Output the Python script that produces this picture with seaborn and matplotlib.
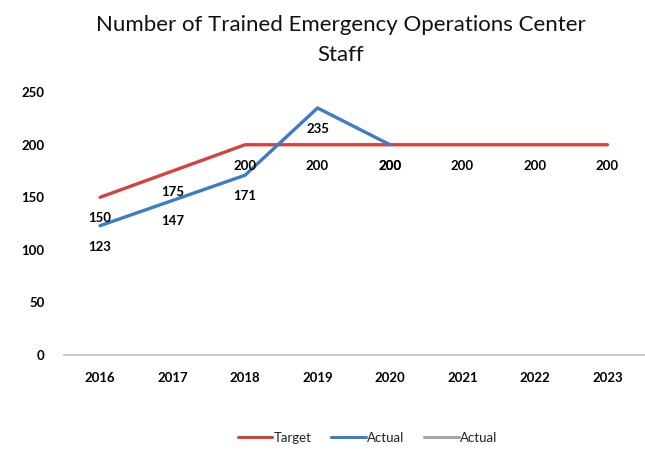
import matplotlib
matplotlib.use('Agg')
import numpy as np
import pandas as pd
import seaborn as sns
import matplotlib.pyplot as plt
from matplotlib.lines import Line2D

# chart data
years = ['2016', '2017', '2018', '2019', '2020', '2021', '2022', '2023']
target = [150, 175, 200, 200, 200, 200, 200, 200]
actual = [123, 147, 171, 235, 200, np.nan, np.nan, np.nan]

RED = '#D6423F'
BLUE = '#3C7DC4'
GRAY = '#A5A5A5'

df = pd.DataFrame({
    'Year': years * 2,
    'Value': target + actual,
    'Series': ['Target'] * len(years) + ['Actual'] * len(years),
})

sns.set_style('white')
plt.rcParams['font.family'] = ['Lato', 'DejaVu Sans']

fig = plt.figure(figsize=(6.45, 4.61), dpi=100)
ax = fig.add_axes([0.099, 0.23, 0.899, 0.57])

sns.lineplot(data=df, x='Year', y='Value', hue='Series',
             palette={'Target': RED, 'Actual': BLUE}, linewidth=2.4,
             sort=False, legend=False, ax=ax)

# data labels, sitting just under each point
for ser, vals in (('Target', target), ('Actual', actual)):
    for i, v in enumerate(vals):
        if np.isnan(v):
            continue
        ax.annotate(f'{int(v)}', (i, v), xytext=(0, -21),
                    textcoords='offset pixels', ha='center', va='center',
                    fontsize=9.5, fontweight='bold', color='black')

ax.set_xlim(-0.5, len(years) - 0.5)
ax.set_ylim(0, 250)
ax.set_yticks(range(0, 251, 50))
ax.set_xlabel('')
ax.set_ylabel('')
ax.tick_params(axis='both', length=0, labelsize=9.5, labelcolor='black')
ax.tick_params(axis='x', pad=12)
ax.tick_params(axis='y', pad=14)
for lab in ax.get_xticklabels() + ax.get_yticklabels():
    lab.set_fontweight('bold')

sns.despine(ax=ax, left=True)
ax.spines['bottom'].set_color('#BFBFBF')
ax.spines['bottom'].set_linewidth(1.2)

fig.suptitle('Number of Trained Emergency Operations Center\nStaff',
             x=0.528, y=0.968, fontsize=16, linespacing=1.65, color='#111111')

handles = [Line2D([], [], color=RED, lw=2.2),
           Line2D([], [], color=BLUE, lw=2.2),
           Line2D([], [], color=GRAY, lw=2.2)]
fig.legend(handles, ['Target', 'Actual', 'Actual'], loc='center',
           bbox_to_anchor=(0.57, 0.05), ncol=3, frameon=False,
           fontsize=9.5, handlelength=2.6, handletextpad=0.1, columnspacing=1.5,
           labelcolor='#222222')

fig.savefig('out.png', dpi=100)
